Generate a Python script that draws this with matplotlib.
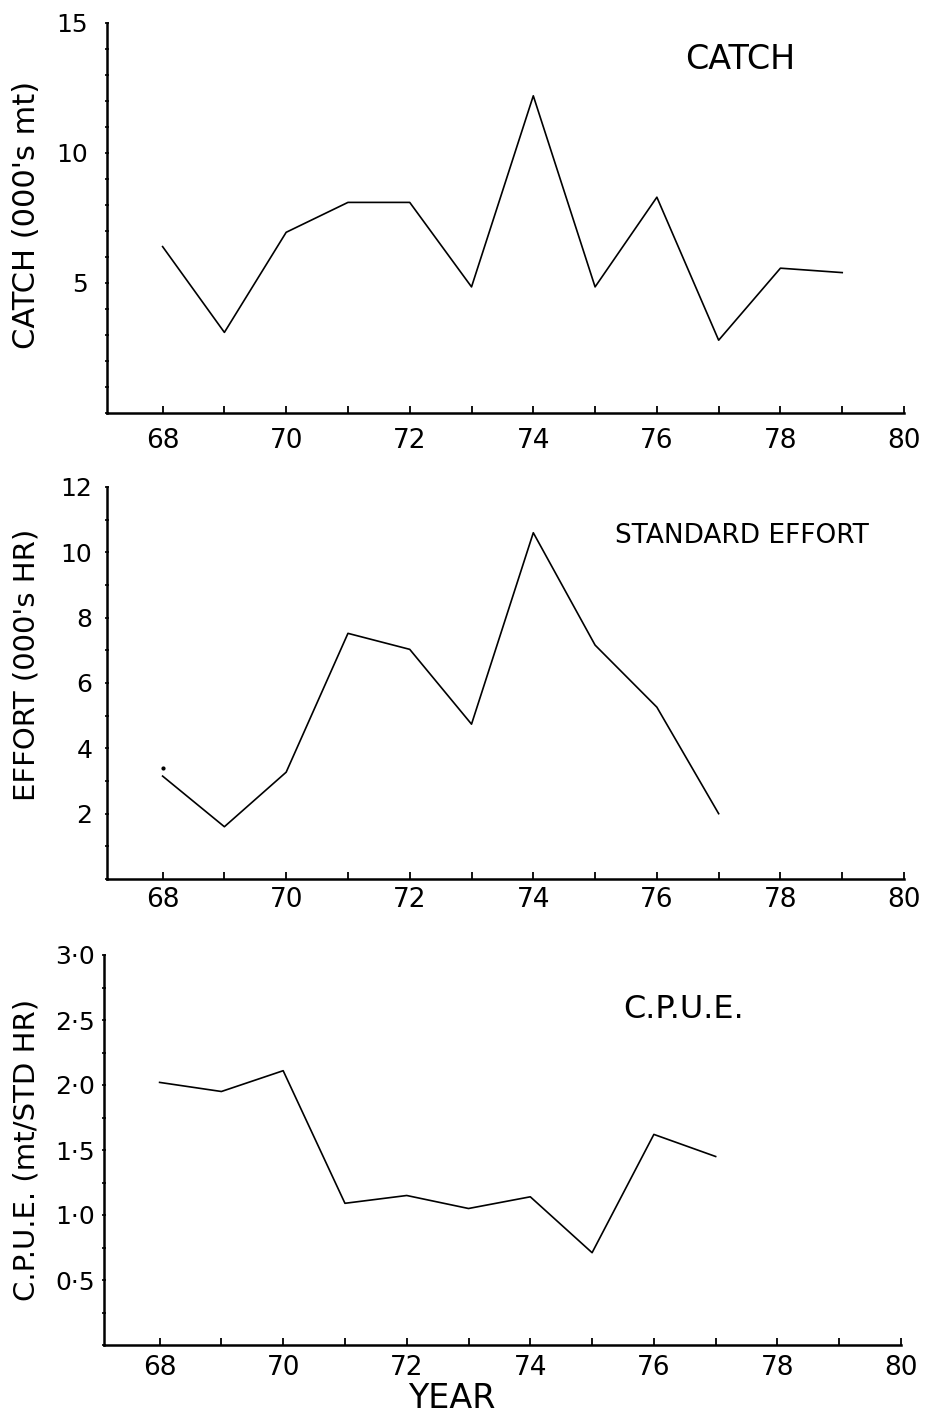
import matplotlib
matplotlib.use("Agg")
import matplotlib.pyplot as plt
from matplotlib.ticker import MultipleLocator, FixedLocator

# values
years = [68, 69, 70, 71, 72, 73, 74, 75, 76, 77, 78, 79]
catch = [6.4, 3.1, 6.95, 8.1, 8.1, 4.85, 12.2, 4.85, 8.3, 2.8, 5.57, 5.4]

effort_years = [68, 69, 70, 71, 72, 73, 74, 75, 76, 77]
effort = [3.15, 1.6, 3.27, 7.52, 7.03, 4.74, 10.6, 7.16, 5.26, 2.0]
effort_stray_year = 68
effort_stray = 3.4

cpue_years = [68, 69, 70, 71, 72, 73, 74, 75, 76, 77]
cpue = [2.02, 1.95, 2.11, 1.09, 1.15, 1.05, 1.14, 0.71, 1.62, 1.45]

x_ticks = [68, 70, 72, 74, 76, 78, 80]
x_labels = ["68", "70", "72", "74", "76", "78", "80"]

catch_ticks = [5, 10, 15]
catch_labels = ["5", "10", "15"]
effort_ticks = [2, 4, 6, 8, 10, 12]
effort_labels = ["2", "4", "6", "8", "10", "12"]
cpue_ticks = [0.5, 1.0, 1.5, 2.0, 2.5, 3.0]
cpue_labels = ["0·5", "1·0", "1·5", "2·0", "2·5", "3·0"]

plt.rcParams["font.family"] = "DejaVu Sans"

fig = plt.figure(figsize=(9.26, 14.21), dpi=100)
W, H = 926, 1421


def make_axes(left, right, bottom, top):
    return fig.add_axes([left / W, 1 - bottom / H, (right - left) / W, (bottom - top) / H])


def style(ax, xlo, yhi, yticks, ylabels, ypad, xpad):
    ax.set_xlim(xlo, 80)
    ax.set_ylim(0, yhi)
    for s in ["top", "right"]:
        ax.spines[s].set_visible(False)
    for s in ["left", "bottom"]:
        ax.spines[s].set_linewidth(1.8)
    ax.xaxis.set_major_locator(FixedLocator(x_ticks))
    ax.set_xticklabels(x_labels)
    ax.xaxis.set_minor_locator(MultipleLocator(1))
    ax.yaxis.set_major_locator(FixedLocator(yticks))
    ax.set_yticklabels(ylabels)
    ax.tick_params(axis="x", which="both", direction="in", length=5, width=1.3,
                   labelsize=19, pad=xpad)
    ax.tick_params(axis="y", which="both", direction="inout", length=3, width=1.2,
                   labelsize=18, pad=ypad)
    ax.patch.set_visible(False)


# catch panel
ax1 = make_axes(107, 904, 413, 23)
ax1.plot(years, catch, color="black", lw=1.2)
style(ax1, 67.1, 15, catch_ticks, catch_labels, 12, 11)
ax1.yaxis.set_minor_locator(MultipleLocator(1))
ax1.text(76.45, 13.6, "CATCH", fontsize=24, ha="left", va="center")

# effort panel
ax2 = make_axes(107, 904, 879, 487)
ax2.plot(effort_years, effort, color="black", lw=1.2)
ax2.plot([effort_stray_year], [effort_stray], "o", color="black", ms=2)
style(ax2, 67.1, 12, effort_ticks, effort_labels, 9, 6)
ax2.yaxis.set_minor_locator(MultipleLocator(1))
ax2.text(75.32, 10.5, "STANDARD EFFORT", fontsize=19, ha="left", va="center")

# cpue panel
ax3 = make_axes(104, 901, 1345, 955)
ax3.plot(cpue_years, cpue, color="black", lw=1.2)
style(ax3, 67.1, 3, cpue_ticks, cpue_labels, 5, 7)
ax3.yaxis.set_minor_locator(MultipleLocator(0.25))
ax3.text(75.5, 2.58, "C.P.U.E.", fontsize=23, ha="left", va="center")

fig.text(27 / W, 1 - 215 / H, "CATCH (000's mt)", rotation=90, fontsize=22,
         ha="center", va="center")
fig.text(27 / W, 1 - 665 / H, "EFFORT (000's HR)", rotation=90, fontsize=21,
         ha="center", va="center")
fig.text(27 / W, 1 - 1150 / H, "C.P.U.E. (mt/STD HR)", rotation=90, fontsize=21,
         ha="center", va="center")
fig.text(452 / W, 1 - 1398 / H, "YEAR", fontsize=24, ha="center", va="center")

fig.savefig("out.png", dpi=100, facecolor="white")
